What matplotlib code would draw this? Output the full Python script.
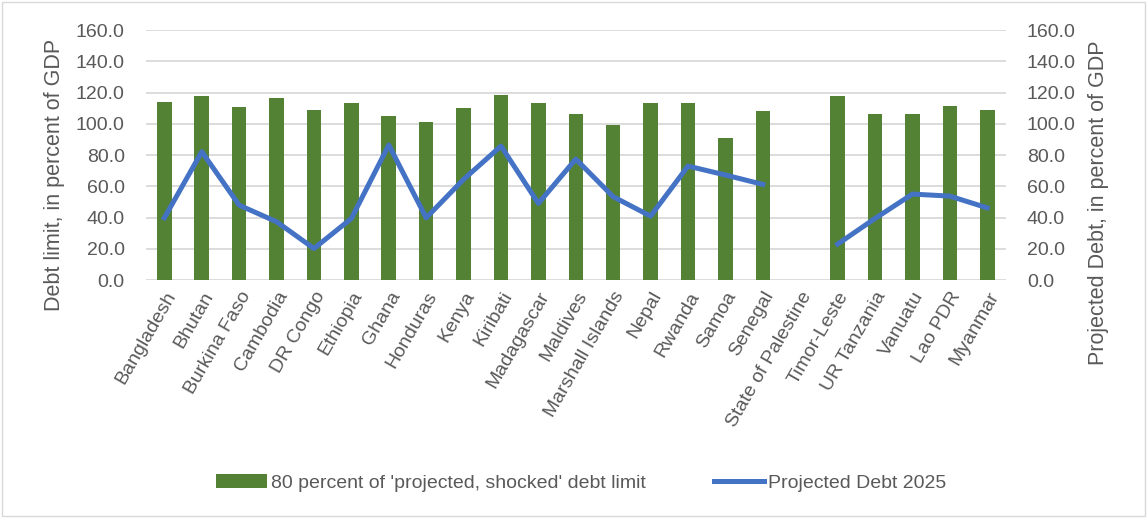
import numpy as np
import matplotlib.pyplot as plt

plt.rcParams['font.family'] = ['Liberation Sans', 'DejaVu Sans']

countries = ['Bangladesh', 'Bhutan', 'Burkina Faso', 'Cambodia', 'DR Congo', 'Ethiopia',
             'Ghana', 'Honduras', 'Kenya', 'Kiribati', 'Madagascar', 'Maldives',
             'Marshall Islands', 'Nepal', 'Rwanda', 'Samoa', 'Senegal', 'State of Palestine',
             'Timor-Leste', 'UR Tanzania', 'Vanuatu', 'Lao PDR', 'Myanmar']
debt_limit = [113.8, 117.9, 110.6, 116.6, 108.9, 113.2, 105.1, 101.0, 110.2, 118.7, 113.6, 106.1,
              99.3, 113.6, 113.6, 90.8, 108.5, np.nan, 117.9, 106.3, 106.6, 111.3, 109.1]
debt_2025 = [39.9, 82.2, 48.0, 37.4, 20.3, 39.5, 86.5, 39.9, 64.5, 85.8, 49.1, 77.5,
             53.4, 41.0, 73.0, 67.3, 61.3, np.nan, 23.1, 39.5, 55.1, 53.8, 46.3]

text_col = '#595959'
fig = plt.figure(figsize=(11.47, 5.18), dpi=100)
ax = fig.add_axes([0.127, 0.459, 0.75, 0.483])
ax2 = ax.twinx()

x = np.arange(len(countries))
ax.bar(x, debt_limit, width=0.39, color='#548235', zorder=2,
       label="80 percent of 'projected, shocked' debt limit")
ax2.plot(x, debt_2025, color='#4472C4', lw=3.6, solid_joinstyle='round',
         label='Projected Debt 2025')

yt = np.arange(0, 161, 20)
for a in (ax, ax2):
    a.set_ylim(0, 160)
    a.set_yticks(yt)
    a.set_yticklabels([f'{v:.1f}' for v in yt])
    a.tick_params(axis='y', length=0, labelsize=14, colors=text_col, pad=15)
    for s in a.spines.values():
        s.set_visible(False)
ax.set_xlim(-0.5, len(countries) - 0.5)
ax.yaxis.grid(True, color='#D9D9D9', lw=1.3)
ax.set_axisbelow(True)
ax.set_xticks(x)
ax.set_xticklabels(countries, rotation=60, ha='right', rotation_mode='anchor')
ax.tick_params(axis='x', length=0, labelsize=14, colors=text_col, pad=6)

ax.set_ylabel('Debt limit, in percent of GDP', fontsize=15.5, color=text_col)
ax2.set_ylabel('Projected Debt, in percent of GDP', fontsize=15.5, color=text_col)
ax.yaxis.set_label_coords(-0.106, 0.42)
ax2.yaxis.set_label_coords(1.108, 0.31)
ax.yaxis.label.set_va('center')
ax2.yaxis.label.set_va('center')

h1, l1 = ax.get_legend_handles_labels()
h2, l2 = ax2.get_legend_handles_labels()
fig.legend(h1 + h2, l1 + l2, loc='center', bbox_to_anchor=(0.507, 0.068), ncol=2,
           frameon=False, fontsize=14, labelcolor=text_col, handlelength=2.6,
           handletextpad=0.2, columnspacing=3.5)

fig.patches.append(plt.Rectangle((0.002, 0.004), 0.996, 0.992, transform=fig.transFigure,
                                 fill=False, edgecolor='#D9D9D9', lw=1))
fig.savefig('out.png', dpi=100)
